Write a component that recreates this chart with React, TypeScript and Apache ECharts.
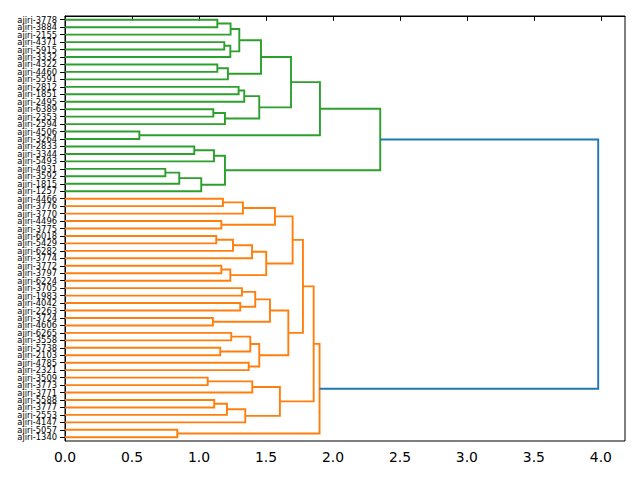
import React, { useEffect, useRef } from "react";
import * as echarts from "echarts";

const leafLabels = [
  "ajiri-3778", "ajiri-3884", "ajiri-2155", "ajiri-4371", "ajiri-5915", "ajiri-3332",
  "ajiri-4322", "ajiri-4460", "ajiri-5591", "ajiri-2812", "ajiri-1851", "ajiri-2495",
  "ajiri-6389", "ajiri-2353", "ajiri-2594", "ajiri-4506", "ajiri-3264", "ajiri-2833",
  "ajiri-3344", "ajiri-5493", "ajiri-4931", "ajiri-3592", "ajiri-1815", "ajiri-1257",
  "ajiri-4466", "ajiri-3776", "ajiri-3770", "ajiri-4496", "ajiri-3775", "ajiri-6018",
  "ajiri-5429", "ajiri-6282", "ajiri-3774", "ajiri-3772", "ajiri-3797", "ajiri-6224",
  "ajiri-3705", "ajiri-1983", "ajiri-4042", "ajiri-2263", "ajiri-3724", "ajiri-4606",
  "ajiri-6265", "ajiri-3558", "ajiri-5738", "ajiri-2103", "ajiri-4785", "ajiri-2321",
  "ajiri-3509", "ajiri-3773", "ajiri-3771", "ajiri-5588", "ajiri-3777", "ajiri-2553",
  "ajiri-4147", "ajiri-5057", "ajiri-1340",
];

// scipy-style linkage: ids < 57 are leaves, id 57+k is merge k
const mergeLeft = [
  0, 57, 3, 59, 58, 6, 62, 61, 9, 65, 12, 67, 66, 64, 15, 70, 17, 73, 20, 75, 76, 74, 72,
  24, 80, 27, 81, 29, 84, 85, 33, 87, 86, 83, 36, 38, 91, 40, 93, 42, 44, 96, 46, 98, 95, 90,
  48, 103, 51, 105, 106, 104, 102, 55, 109, 79,
];
const mergeRight = [
  1, 2, 4, 5, 60, 7, 8, 63, 10, 11, 13, 14, 68, 69, 16, 71, 18, 19, 21, 22, 23, 77, 78,
  25, 26, 28, 82, 30, 31, 32, 34, 35, 88, 89, 37, 39, 92, 41, 94, 43, 45, 97, 47, 99, 100, 101,
  49, 50, 52, 53, 54, 107, 108, 56, 110, 111,
];
const mergeHeight = [
  1.137, 1.236, 1.189, 1.234, 1.301, 1.137, 1.216, 1.463, 1.296, 1.338, 1.107, 1.194, 1.45,
  1.687, 0.555, 1.903, 0.965, 1.112, 0.749, 0.853, 1.017, 1.194, 2.353,
  1.179, 1.328, 1.167, 1.567, 1.129, 1.254, 1.396, 1.167, 1.234, 1.502, 1.699, 1.321, 1.308,
  1.42, 1.104, 1.53, 1.241, 1.159, 1.383, 1.371, 1.45, 1.667, 1.776, 1.065, 1.398, 1.114,
  1.209, 1.346, 1.604, 1.856, 0.838, 1.9, 3.98,
];
const mergeColor = [
  0, 0, 0, 0, 0, 0, 0, 0, 0, 0, 0, 0, 0, 0, 0, 0, 0, 0, 0, 0, 0, 0, 0,
  1, 1, 1, 1, 1, 1, 1, 1, 1, 1, 1, 1, 1, 1, 1, 1, 1, 1, 1, 1, 1, 1, 1,
  1, 1, 1, 1, 1, 1, 1, 1, 1, 2,
];
const palette = ["#2ca02c", "#ff7f0e", "#1f77b4"];
const xTicks = [0, 0.5, 1, 1.5, 2, 2.5, 3, 3.5, 4];
const xMax = 4.18;

export default function App() {
  const ref = useRef<HTMLDivElement>(null);
  useEffect(() => {
    if (!ref.current) return;
    const chart = echarts.init(ref.current, null, { renderer: "svg" });

    const nodeX: number[] = leafLabels.map(() => 0);
    const nodeY: number[] = leafLabels.map((_, i) => 10 * i + 5);
    const links = mergeHeight.map((h, k) => {
      const a = mergeLeft[k];
      const b = mergeRight[k];
      const row = [nodeX[a], nodeY[a], h, nodeY[b], nodeX[b], mergeColor[k]];
      nodeX.push(h);
      nodeY.push((nodeY[a] + nodeY[b]) / 2);
      return row;
    });

    const font = "DejaVu Sans";
    chart.setOption({
      animation: false,
      backgroundColor: "#fff",
      grid: {
        left: 65,
        right: 15,
        top: 16,
        bottom: 39,
        show: true,
        borderColor: "#000",
        borderWidth: 1,
        backgroundColor: "transparent",
      },
      xAxis: {
        type: "value",
        min: 0,
        max: xMax,
        interval: 0.5,
        splitLine: { show: false },
        axisLine: { show: true, lineStyle: { color: "#000", width: 1 } },
        axisTick: {
          show: true,
          length: 4.9,
          lineStyle: { color: "#000", width: 1 },
          customValues: xTicks,
        },
        axisLabel: {
          customValues: xTicks,
          formatter: (v: number) => v.toFixed(1),
          color: "#000",
          fontFamily: font,
          fontSize: 13.9,
          margin: 9,
        },
      },
      yAxis: [
        {
          type: "value",
          min: 0,
          max: leafLabels.length * 10,
          inverse: true,
          show: false,
          position: "left",
        },
        {
          type: "category",
          data: leafLabels,
          inverse: true,
          position: "left",
          boundaryGap: true,
          axisLine: { show: true, lineStyle: { color: "#000", width: 1 } },
          axisTick: {
            show: true,
            alignWithLabel: true,
            interval: 0,
            length: 4.9,
            lineStyle: { color: "#000", width: 1 },
          },
          axisLabel: {
            interval: 0,
            color: "#000",
            fontFamily: font,
            fontSize: 8.33,
            lineHeight: 7.3,
            margin: 8,
          },
          splitLine: { show: false },
        },
      ],
      series: [
        {
          type: "custom",
          xAxisIndex: 0,
          yAxisIndex: 0,
          dimensions: ["x1", "y1", "h", "y2", "x2", "c"],
          encode: { x: [0, 2, 4], y: [1, 3] },
          data: links,
          clip: false,
          renderItem: (params: any, api: any) => {
            const p1 = api.coord([api.value(0), api.value(1)]);
            const p2 = api.coord([api.value(2), api.value(1)]);
            const p3 = api.coord([api.value(2), api.value(3)]);
            const p4 = api.coord([api.value(4), api.value(3)]);
            return {
              type: "polyline",
              shape: { points: [p1, p2, p3, p4] },
              style: {
                stroke: palette[api.value(5)],
                fill: "none",
                lineWidth: 1.9,
              },
            };
          },
        },
      ],
    });
    return () => chart.dispose();
  }, []);
  return (
    <div
      ref={ref}
      style={{ position: "absolute", left: 0, top: 0, width: 640, height: 480 }}
    />
  );
}
